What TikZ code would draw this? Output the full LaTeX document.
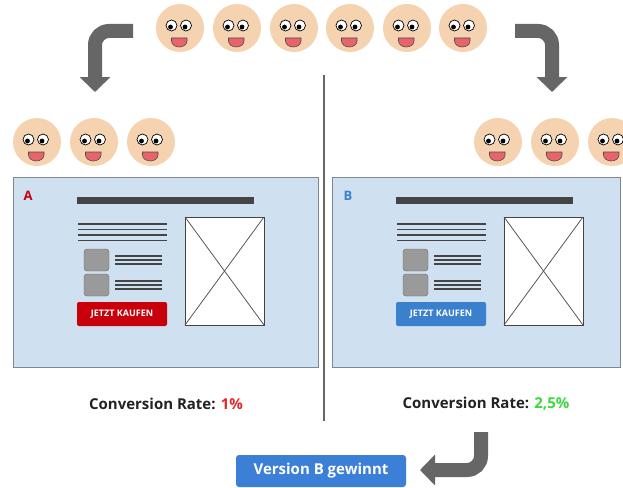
\documentclass[tikz,border=0pt]{standalone}
\usepackage{fontspec}
\setmainfont{Open Sans}
\usetikzlibrary{arrows.meta}

\definecolor{skin}{HTML}{F5D3B0}
\definecolor{mouthred}{HTML}{E8646B}
\definecolor{panelblue}{HTML}{CFE0F1}
\definecolor{panelframe}{HTML}{7F8790}
\definecolor{inkdark}{HTML}{444444}
\definecolor{boxgray}{HTML}{9A9A9A}
\definecolor{arrowgray}{HTML}{666666}
\definecolor{buyred}{HTML}{C8000B}
\definecolor{buyblue}{HTML}{3A80CC}
\definecolor{winblue}{HTML}{3B7FD6}
\definecolor{ratered}{HTML}{E8262B}
\definecolor{rategreen}{HTML}{3BD93B}
\definecolor{textdark}{HTML}{222222}

\tikzset{
  bigarrow/.style={draw=arrowgray, line width=14pt, rounded corners=14pt,
    -{Triangle[width=30pt,length=15pt]}},
  panel/.style={draw=panelframe, fill=panelblue, line width=1pt},
  rate/.style={font=\bfseries\fontsize{15}{17}\selectfont, text=textdark},
  buybtn/.style={rounded corners=2pt, minimum width=90pt, minimum height=24pt,
    text=white, font=\bfseries\fontsize{9}{10}\selectfont},
  pagelabel/.style={font=\bfseries\fontsize{13}{14}\selectfont},
}

% one smiling face, centred at (#1,#2)
\newcommand{\happyface}[2]{
  \begin{scope}[shift={(#1,#2)}]
    \fill[skin] (0,0) circle (24);
    \draw[black, line width=0.7pt, fill=white] (-8.5,-2.5) circle (5.5);
    \draw[black, line width=0.7pt, fill=white] (6,-2.5) circle (5.5);
    \fill[black] (-9.5,-1) circle (2.4);
    \fill[black] (5,-1) circle (2.4);
    \draw[black!70, line width=0.6pt, fill=mouthred]
      (-8.5,10) -- (7,10) -- (7,13) arc (0:180:7.75 and 6) -- cycle;
  \end{scope}
}

% one landing page mock-up, left edge at #1
\newcommand{\mockpage}[1]{
  \begin{scope}[shift={(#1,0)}]
    \fill[inkdark] (64,197) rectangle (241,204);
    \foreach \y in {224,229.5,235,240.5}
      \draw[inkdark, line width=1.2pt] (65,\y) -- (154,\y);
    \foreach \y in {249,274}
      \draw[inkdark!80, fill=boxgray, rounded corners=3pt] (71,\y) rectangle (96,\y+22);
    \foreach \y in {256,260,264,281,285,289}
      \draw[inkdark, line width=1.1pt] (102,\y) -- (149,\y);
    \draw[inkdark, line width=1pt, fill=white] (172,217) rectangle (251,325);
    \draw[inkdark!90, line width=0.8pt] (172,217) -- (251,325);
    \draw[inkdark!90, line width=0.8pt] (251,217) -- (172,325);
  \end{scope}
}

\begin{document}
\begin{tikzpicture}[x=1pt, y=-1pt]
  \clip (0,0) rectangle (623,487);
  \fill[white] (0,0) rectangle (623,487);

  % visitors split into two groups
  \foreach \x in {180,237,294,350,407,463}
    \happyface{\x}{28};
  \foreach \x in {37,94,151}
    \happyface{\x}{142};
  \foreach \x in {498,555,612}
    \happyface{\x}{142};

  \coordinate (splitL) at (133,31);
  \coordinate (downL) at (95,92);
  \coordinate (splitR) at (515,31);
  \coordinate (downR) at (552,92);
  \draw[bigarrow] (splitL) -| (downL);
  \draw[bigarrow] (splitR) -| (downR);

  % divider
  \coordinate (divtop) at (324,75);
  \coordinate (divbot) at (324,421);
  \draw[arrowgray, line width=1.6pt] (divtop) -- (divbot);

  % variant A
  \draw[panel] (13,177) rectangle (318,367);
  \node[pagelabel, text=buyred] (labA) at (28,196) {A};
  \mockpage{13}
  \node[buybtn, fill=buyred] (buyA) at (122,314) {JETZT KAUFEN};

  % variant B
  \draw[panel] (332,177) rectangle (620,367);
  \node[pagelabel, text=buyblue] (labB) at (348,196) {B};
  \mockpage{332}
  \node[buybtn, fill=buyblue] (buyB) at (441,314) {JETZT KAUFEN};

  % results
  \node[rate] (rateA) at (166,404) {Conversion Rate: \textcolor{ratered}{1\%}};
  \node[rate] (rateB) at (486,404) {Conversion Rate: \textcolor{rategreen}{2,5\%}};

  \node[fill=winblue, rounded corners=3pt, minimum width=170pt, minimum height=32pt,
    text=white, font=\bfseries\fontsize{15}{17}\selectfont] (win) at (321,471) {Version B gewinnt};

  \coordinate (fromB) at (481,432);
  \coordinate (toWin) at (420,470);
  \draw[bigarrow] (fromB) |- (toWin);
\end{tikzpicture}
\end{document}
